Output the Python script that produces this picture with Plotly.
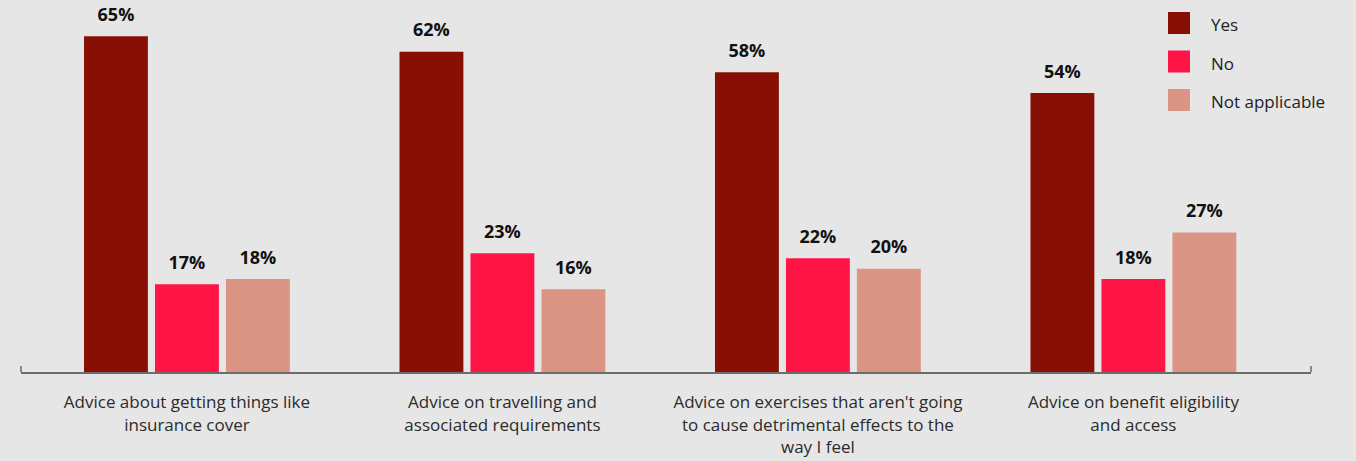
import plotly.graph_objects as go

# Survey data
categories = [
    "Advice about getting things like<br>insurance cover",
    "Advice on travelling and<br>associated requirements",
    "Advice on exercises that aren't going<br>to cause detrimental effects to the<br>way I feel",
    "Advice on benefit eligibility<br>and access",
]
yes_values = [65, 62, 58, 54]
no_values = [17, 23, 22, 18]
na_values = [18, 16, 20, 27]
series_names = ["Yes", "No", "Not applicable"]

colors = {"Yes": "#870F03", "No": "#FF1446", "Not applicable": "#DB9585"}
BG = "#E6E6E6"
FONT = "Open Sans"

W, H = 1356, 461
ML, MR, MT, MB = 21, 45, 0, 89
GAP = 0.325

fig = go.Figure()
series = list(zip(series_names, [yes_values, no_values, na_values]))
for name, vals in series:
    fig.add_trace(go.Bar(
        x=categories,
        y=vals,
        name=name,
        marker=dict(color=colors[name], line=dict(width=0)),
        showlegend=False,
        hovertemplate="%{y}%<extra>" + name + "</extra>",
    ))

# Value labels, grouped the same way as the bars so each sits over its bar
for name, vals in series:
    fig.add_trace(go.Scatter(
        x=categories,
        y=vals,
        mode="markers+text",
        marker=dict(size=16, opacity=0),
        text=[f"{v}%" for v in vals],
        textposition="top center",
        textfont=dict(family=FONT, size=18, color="#111111", weight="bold"),
        cliponaxis=False,
        showlegend=False,
        hoverinfo="skip",
    ))

# Custom legend: large square swatches with labels
plot_w = W - ML - MR
plot_h = H - MT - MB
for i, name in enumerate(series_names):
    y_top = 12 + i * 38.5
    fig.add_shape(
        type="rect", xref="paper", yref="paper",
        x0=(1168 - ML) / plot_w, x1=(1190 - ML) / plot_w,
        y0=1 - (y_top - MT) / plot_h, y1=1 - (y_top + 22 - MT) / plot_h,
        fillcolor=colors[name], line=dict(width=0), layer="above",
    )
    fig.add_annotation(
        xref="paper", yref="paper",
        x=(1209 - ML) / plot_w, y=1 - (y_top + 13 - MT) / plot_h,
        text=name, showarrow=False, xanchor="left", yanchor="middle",
        font=dict(family=FONT, size=17, color="#222222"),
    )

# Small upturned ticks at both ends of the baseline
for xp in (0, 1):
    fig.add_shape(
        type="line", xref="paper", yref="y", ysizemode="pixel", yanchor=0,
        x0=xp, x1=xp, y0=0, y1=6,
        line=dict(color="#6B6B6B", width=1.5),
    )

fig.update_layout(
    width=W, height=H,
    margin=dict(l=ML, r=MR, t=MT, b=MB),
    paper_bgcolor=BG, plot_bgcolor=BG,
    barmode="group", bargap=GAP, bargroupgap=0.1,
    scattermode="group", scattergap=GAP,
    font=dict(family=FONT, size=17, color="#2B2B2B"),
    xaxis=dict(
        showline=True, linecolor="#6B6B6B", linewidth=2,
        showgrid=False, ticks="", range=[-0.526, 3.563],
        tickfont=dict(family=FONT, size=17, color="#2B2B2B"),
        ticklabelstandoff=14,
    ),
    yaxis=dict(visible=False, range=[0, 72], showgrid=False, zeroline=False),
)

fig.write_html("out.html")
